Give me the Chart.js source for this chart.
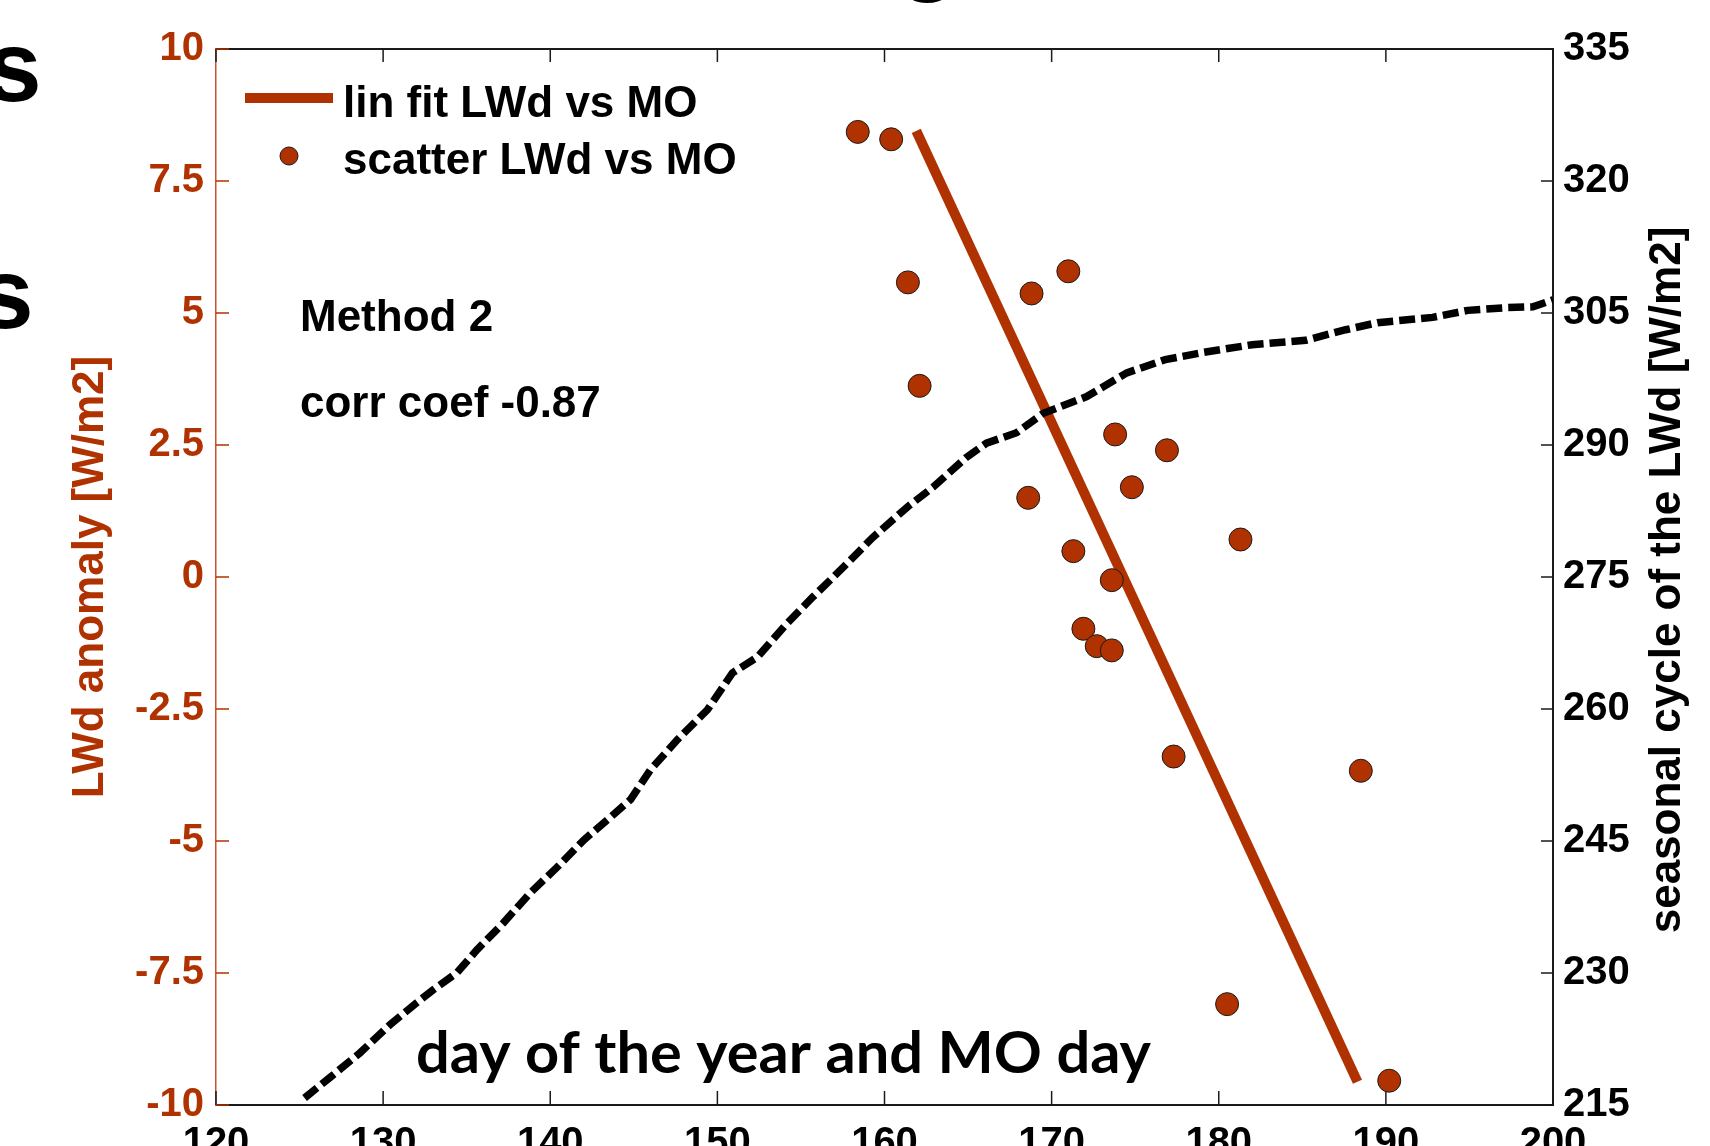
<!DOCTYPE html>
<html>
<head>
<meta charset="utf-8">
<script src="https://cdn.jsdelivr.net/npm/chart.js@4.4.1/dist/chart.umd.min.js"></script>
<style>
  html, body { margin: 0; padding: 0; background: #fff; overflow: hidden; }
  canvas { display: block; }
</style>
</head>
<body>
<canvas id="myChart" width="1710" height="1180"></canvas>
<script>
// tick labels
const dayTicks = [120, 130, 140, 150, 160, 170, 180, 190, 200];
const anomalyTicks = [-10, -7.5, -5, -2.5, 0, 2.5, 5, 7.5, 10];
const seasonalTicks = [215, 230, 245, 260, 275, 290, 305, 320, 335];

// scatter LWd vs MO (day, anomaly)
const scatterDay = [158.4, 160.4, 161.4, 162.1, 168.8, 171.0, 168.6, 171.3, 173.8, 176.9,
                    174.8, 173.6, 181.3, 171.9, 172.7, 173.6, 177.3, 188.5, 180.5, 190.2];
const scatterAnom = [8.43, 8.29, 5.58, 3.62, 5.37, 5.79, 1.50, 0.49, 2.70, 2.40,
                     1.70, -0.06, 0.71, -0.98, -1.31, -1.39, -3.40, -3.67, -8.09, -9.54];

// linear fit end points
const fitDay = [161.9, 188.3];
const fitAnom = [8.45, -9.56];

// seasonal cycle of LWd (right axis)
const seasonDay = [125.3, 126.8, 128.6, 130.4, 132.0, 133.0, 134.4, 135.6, 137.2, 138.8,
                   140.4, 142.0, 143.6, 144.8, 146.0, 147.6, 149.4, 150.9, 152.4, 154.2,
                   155.7, 157.8, 159.3, 161.4, 162.9, 164.9, 166.1, 167.9, 169.5, 172.1,
                   174.5, 176.8, 179.0, 182.0, 185.2, 187.6, 189.5, 192.8, 194.9, 197.1,
                   198.8, 200.0];
const seasonLWd = [215.8, 218.1, 220.9, 224.1, 226.6, 228.1, 230.0, 232.6, 235.7, 239.1,
                   242.0, 245.1, 247.7, 249.7, 253.1, 256.5, 259.9, 264.1, 265.9, 269.8,
                   272.7, 276.6, 279.5, 283.0, 285.2, 288.6, 290.2, 291.4, 293.6, 295.5,
                   298.2, 299.7, 300.5, 301.4, 301.9, 303.1, 303.9, 304.5, 305.3, 305.6,
                   305.7, 306.5];

const ORANGE = '#B03200';
const DARK = '#1a1a1a';

function toPoints(xs, ys) {
    return xs.map((x, i) => ({x: x, y: ys[i]}));
}

function line(ctx, x1, y1, x2, y2) {
    ctx.beginPath();
    ctx.moveTo(x1, y1);
    ctx.lineTo(x2, y2);
    ctx.stroke();
}

function fitText(ctx, text, x, y, w) {
    var m = ctx.measureText(text).width;
    ctx.save();
    ctx.translate(x, y);
    ctx.scale(w / m, 1);
    ctx.fillText(text, 0, 0);
    ctx.restore();
}

// frame, inward ticks, legend and the free texts
const overlay = {
    id: 'overlay',
    beforeDatasetsDraw(chart) {
        var ctx = chart.ctx;
        var a = chart.chartArea;
        var s = chart.scales;
        ctx.save();
        ctx.strokeStyle = DARK;
        ctx.lineWidth = 2;
        line(ctx, a.left, a.top, a.right, a.top);
        ctx.lineWidth = 1.5;
        dayTicks.forEach(function(v) {
            var px = s.x.getPixelForValue(v);
            line(ctx, px, a.bottom, px, a.bottom - 14);
            line(ctx, px, a.top, px, a.top + 13);
        });
        seasonalTicks.forEach(function(v) {
            var py = s.y2.getPixelForValue(v);
            line(ctx, a.right, py, a.right - 12, py);
        });
        ctx.strokeStyle = ORANGE;
        anomalyTicks.forEach(function(v) {
            var py = s.y.getPixelForValue(v);
            line(ctx, a.left, py, a.left + 13, py);
        });
        ctx.restore();
    },
    afterDraw(chart) {
        var ctx = chart.ctx;
        ctx.save();
        // legend
        ctx.strokeStyle = ORANGE;
        ctx.lineWidth = 10;
        ctx.lineCap = 'butt';
        line(ctx, 245, 98, 333, 98);
        ctx.beginPath();
        ctx.arc(289, 156, 9, 0, Math.PI * 2);
        ctx.fillStyle = ORANGE;
        ctx.fill();
        ctx.lineWidth = 1;
        ctx.strokeStyle = DARK;
        ctx.stroke();

        ctx.fillStyle = '#000';
        ctx.textAlign = 'left';
        ctx.textBaseline = 'alphabetic';
        ctx.font = 'bold 44px "Liberation Sans", Arial, sans-serif';
        ctx.fillText('lin fit LWd vs MO', 343, 117);
        ctx.fillText('scatter LWd vs MO', 343, 174);
        ctx.fillText('Method 2', 300, 331);
        ctx.fillText('corr coef -0.87', 300, 417);

        // right axis title, reading bottom to top
        ctx.save();
        ctx.translate(1668, 580);
        ctx.rotate(-Math.PI / 2);
        ctx.textAlign = 'center';
        ctx.textBaseline = 'middle';
        ctx.fillText('seasonal cycle of the LWd [W/m2]', 0, 0);
        ctx.restore();

        // axis caption from the slide
        ctx.font = 'bold 58px Lato, "Open Sans", sans-serif';
        fitText(ctx, 'day of the year and MO day', 416, 1073, 735);

        // letters of the slide text cut by the border
        ctx.font = 'bold 100px "Liberation Sans", Arial, sans-serif';
        ctx.fillText('s', -14, 101);
        ctx.fillText('s', -22, 328);
        ctx.fillText('g', 898, -18.5);
        ctx.restore();
    }
};

(function() {
    Chart.defaults.font.family = '"Liberation Sans", Arial, sans-serif';
    Chart.defaults.color = '#000';

    var ctx = document.getElementById('myChart').getContext('2d');
    var myChart = new Chart(ctx, {
        type: 'scatter',
        data: {
            datasets: [{
                type: 'line',
                label: 'seasonal cycle',
                data: toPoints(seasonDay, seasonLWd),
                yAxisID: 'y2',
                borderColor: '#000',
                borderWidth: 7.5,
                borderDash: [16, 6],
                pointRadius: 0,
                tension: 0,
                fill: false,
                order: 0
            }, {
                label: 'scatter LWd vs MO',
                data: toPoints(scatterDay, scatterAnom),
                yAxisID: 'y',
                backgroundColor: ORANGE,
                borderColor: DARK,
                borderWidth: 1,
                pointRadius: 11.5,
                order: 1
            }, {
                type: 'line',
                label: 'lin fit LWd vs MO',
                data: toPoints(fitDay, fitAnom),
                yAxisID: 'y',
                borderColor: ORANGE,
                borderWidth: 10,
                borderCapStyle: 'butt',
                pointRadius: 0,
                fill: false,
                order: 2
            }]
        },
        options: {
            responsive: false,
            animation: false,
            events: [],
            layout: { padding: { top: 49, left: 0, right: 0, bottom: 0 } },
            plugins: {
                legend: { display: false },
                tooltip: { enabled: false }
            },
            scales: {
                x: {
                    type: 'linear',
                    position: 'bottom',
                    min: 120,
                    max: 200,
                    afterBuildTicks: function(scale) {
                        scale.ticks = dayTicks.map(function(v) { return {value: v}; });
                    },
                    afterFit: function(scale) { scale.height = 75; },
                    grid: { display: false, drawTicks: false },
                    border: { display: true, color: DARK, width: 2 },
                    ticks: {
                        autoSkip: false,
                        maxRotation: 0,
                        padding: 15,
                        color: '#000',
                        font: { size: 40, weight: 'bold' }
                    }
                },
                y: {
                    type: 'linear',
                    position: 'left',
                    min: -10,
                    max: 10,
                    afterBuildTicks: function(scale) {
                        scale.ticks = anomalyTicks.map(function(v) { return {value: v}; });
                    },
                    afterFit: function(scale) { scale.width = 216; },
                    grid: { display: false, drawTicks: false },
                    border: { display: true, color: '#C4522A', width: 1.5 },
                    ticks: {
                        autoSkip: false,
                        padding: 12,
                        color: ORANGE,
                        font: { size: 40, weight: 'bold' },
                        callback: function(v) { return String(v); }
                    },
                    title: {
                        display: true,
                        text: 'LWd anomaly [W/m2]',
                        color: ORANGE,
                        font: { size: 44, weight: 'bold' },
                        padding: { top: 64, bottom: 0 }
                    }
                },
                y2: {
                    type: 'linear',
                    position: 'right',
                    min: 215,
                    max: 335,
                    afterBuildTicks: function(scale) {
                        scale.ticks = seasonalTicks.map(function(v) { return {value: v}; });
                    },
                    afterFit: function(scale) { scale.width = 157; },
                    grid: { display: false, drawTicks: false },
                    border: { display: true, color: DARK, width: 2 },
                    ticks: {
                        autoSkip: false,
                        padding: 10,
                        color: '#000',
                        font: { size: 40, weight: 'bold' },
                        callback: function(v) { return String(v); }
                    }
                }
            }
        },
        plugins: [overlay]
    });
})();
</script>
</body>
</html>
